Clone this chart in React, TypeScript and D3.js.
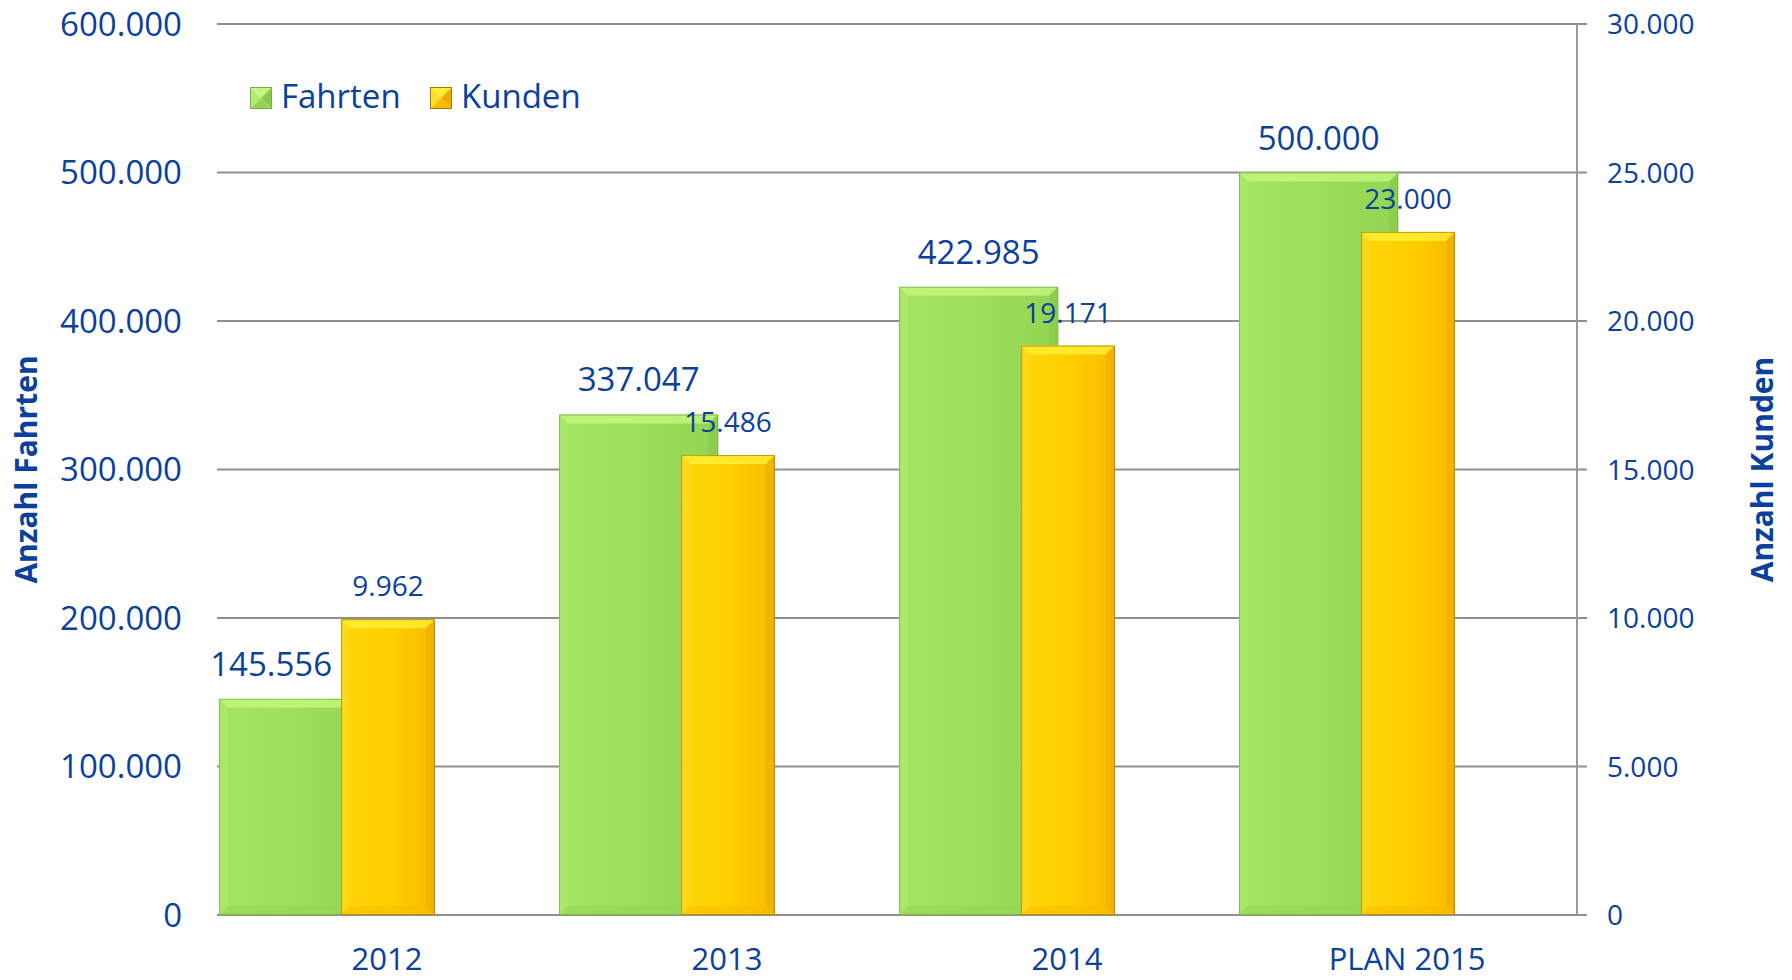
import React, { useEffect } from "react";
import * as d3 from "d3";

const categories = ["2012", "2013", "2014", "PLAN 2015"];
const fahrten = [145556, 337047, 422985, 500000];
const kunden = [9962, 15486, 19171, 23000];
const leftTicks = [0, 100000, 200000, 300000, 400000, 500000, 600000];
const rightTicks = [0, 5000, 10000, 15000, 20000, 25000, 30000];
const seriesNames = ["Fahrten", "Kunden"];

const W = 1792;
const H = 980;
const M = { left: 217, right: 1577, top: 24, bottom: 915 };
const BLUE = "#0b409c";
const FONT = "'Open Sans', sans-serif";

const de = d3.formatLocale({ decimal: ",", thousands: ".", grouping: [3], currency: ["", "€"] });
const fmt = de.format(",d");

type Pal = { base: string; light: string; dark: string; top: string; edge: string; left: string; right: string };
const green: Pal = { base: "#9ddf5c", light: "#a3e461", dark: "#92d552", top: "#c4f77e", edge: "#7aa84c", left: "#afec70", right: "#8bc94d" };
const yellow: Pal = { base: "#ffcf00", light: "#ffd60a", dark: "#f8bc00", top: "#fff036", edge: "#a87a00", left: "#ffde26", right: "#eeaa00" };

function Bar({ x, y, w, h, p, id }: { x: number; y: number; w: number; h: number; p: Pal; id: string }) {
  const b = Math.min(9, w / 4, h / 2);
  return (
    <g>
      <defs>
        <linearGradient id={id} x1="0" x2="1" y1="0" y2="0">
          <stop offset="0" stopColor={p.light} />
          <stop offset="0.5" stopColor={p.base} />
          <stop offset="1" stopColor={p.dark} />
        </linearGradient>
      </defs>
      <rect x={x} y={y} width={w} height={h} fill={`url(#${id})`} />
      <polygon points={`${x},${y} ${x + w},${y} ${x + w - b},${y + b} ${x + b},${y + b}`} fill={p.top} opacity={0.8} />
      <polygon points={`${x},${y} ${x + b},${y + b} ${x + b},${y + h - b} ${x},${y + h}`} fill={p.left} opacity={0.5} />
      <polygon points={`${x + w},${y} ${x + w},${y + h} ${x + w - b},${y + h - b} ${x + w - b},${y + b}`} fill={p.right} opacity={0.55} />
      <polygon points={`${x},${y + h} ${x + b},${y + h - b} ${x + w - b},${y + h - b} ${x + w},${y + h}`} fill={p.dark} opacity={0.5} />
      <rect x={x + 0.5} y={y + 0.5} width={w - 1} height={h - 1} fill="none" stroke={p.edge} strokeWidth={1} opacity={0.7} />
    </g>
  );
}

function LegendSwatch({ x, y, s, p }: { x: number; y: number; s: number; p: Pal }) {
  const c = s / 2;
  return (
    <g>
      <polygon points={`${x},${y} ${x + s},${y} ${x + c},${y + c}`} fill={p.top} />
      <polygon points={`${x},${y} ${x + c},${y + c} ${x},${y + s}`} fill={p.left} />
      <polygon points={`${x + s},${y} ${x + s},${y + s} ${x + c},${y + c}`} fill={p.right} />
      <polygon points={`${x},${y + s} ${x + c},${y + c} ${x + s},${y + s}`} fill={p.dark} />
      <rect x={x + 0.5} y={y + 0.5} width={s - 1} height={s - 1} fill="none" stroke={p.edge} strokeWidth={1} />
    </g>
  );
}

export default function App() {
  useEffect(() => {
    document.body.style.margin = "0";
  }, []);

  const x = d3.scaleBand<string>().domain(categories).range([M.left, M.right]).padding(0);
  const yL = d3.scaleLinear().domain([0, 600000]).range([M.bottom, M.top]);
  const yR = d3.scaleLinear().domain([0, 30000]).range([M.bottom, M.top]);
  const bw = x.bandwidth();
  const gx0 = 0.006, gx1 = 0.474, kx0 = 0.365, kx1 = 0.641;

  return (
    <svg width={W} height={H} style={{ display: "block" }} fontFamily={FONT}>
      <rect width={W} height={H} fill="#fff" />
      {leftTicks.map((t) => (
        <line key={"g" + t} x1={M.left} x2={M.right + 10} y1={yL(t)} y2={yL(t)} stroke="#8f8f8f" strokeWidth={2} />
      ))}
      <line x1={M.right} x2={M.right} y1={M.top} y2={M.bottom} stroke="#999" strokeWidth={2} />
      {leftTicks.map((t) => (
        <text key={"l" + t} x={182} y={yL(t) + 11.5} textAnchor="end" fontSize={33} fill={BLUE}>
          {fmt(t)}
        </text>
      ))}
      {rightTicks.map((t) => (
        <text key={"r" + t} x={1607} y={yR(t) + 10} fontSize={28} fill={BLUE}>
          {fmt(t)}
        </text>
      ))}
      {categories.map((c, i) => {
        const x0 = x(c)!;
        const gxa = x0 + bw * gx0, gxb = x0 + bw * gx1;
        const kxa = x0 + bw * kx0, kxb = x0 + bw * kx1;
        const gy = yL(fahrten[i]);
        const ky = yR(kunden[i]);
        return (
          <g key={c}>
            <Bar id={"gg" + i} x={gxa} y={gy} w={gxb - gxa} h={M.bottom - gy} p={green} />
            <Bar id={"yg" + i} x={kxa} y={ky} w={kxb - kxa} h={M.bottom - ky} p={yellow} />
          </g>
        );
      })}
      {categories.map((c, i) => {
        const x0 = x(c)!;
        const gxa = x0 + bw * gx0, gxb = x0 + bw * gx1;
        const kxa = x0 + bw * kx0, kxb = x0 + bw * kx1;
        const gy = yL(fahrten[i]);
        const ky = yR(kunden[i]);
        const gLabelY = gy - 23;
        const collide = ky < gLabelY;
        return (
          <g key={"lab" + c}>
            <text
              x={collide ? kxa - 9 : (gxa + gxb) / 2}
              y={gLabelY}
              textAnchor={collide ? "end" : "middle"}
              fontSize={33}
              fill={BLUE}
            >
              {fmt(fahrten[i])}
            </text>
            <text x={(kxa + kxb) / 2} y={ky - 23} textAnchor="middle" fontSize={28} fill={BLUE}>
              {fmt(kunden[i])}
            </text>
            <text x={x0 + bw / 2} y={970} textAnchor="middle" fontSize={31} fill={BLUE}>
              {c}
            </text>
          </g>
        );
      })}
      <text transform={`translate(37,${(M.top + M.bottom) / 2}) rotate(-90)`} textAnchor="middle" fontSize={30} fontWeight="bold" fill={BLUE}>
        Anzahl Fahrten
      </text>
      <text transform={`translate(1773,${(M.top + M.bottom) / 2}) rotate(-90)`} textAnchor="middle" fontSize={30} fontWeight="bold" fill={BLUE}>
        Anzahl Kunden
      </text>
      <LegendSwatch x={250} y={87} s={22} p={green} />
      <text x={281} y={108} fontSize={33} fill={BLUE}>{seriesNames[0]}</text>
      <LegendSwatch x={430} y={87} s={22} p={yellow} />
      <text x={461} y={108} fontSize={33} fill={BLUE}>{seriesNames[1]}</text>
    </svg>
  );
}
